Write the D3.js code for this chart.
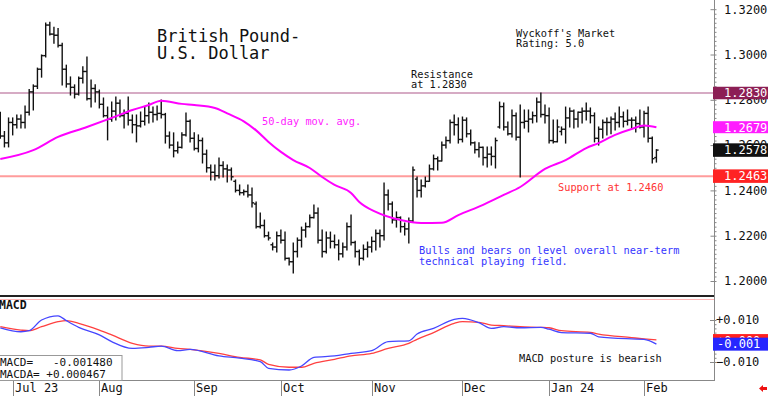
<!DOCTYPE html>
<html>
<head>
<meta charset="utf-8">
<script src="https://cdn.jsdelivr.net/npm/d3@7"></script>
<style>
  body { margin: 0; background: #fff; }
  svg { display: block; }
  text { font-family: 'DejaVu Sans Mono', monospace; white-space: pre; }
</style>
</head>
<body>
<svg id="chart" width="768" height="396"></svg>
<script>
// daily bars, Jun 28 2023 .. Feb 6 2024 (weekdays)
const opens = [
  1.2710, 1.2640, 1.2610,
  1.2700, 1.2690, 1.2715, 1.2700, 1.2745, 1.2835, 1.2860, 1.2935, 1.2995, 1.3130, 1.3090, 1.3085, 1.3040, 1.2935, 1.2870, 1.2855, 1.2825, 1.2895, 1.2925, 1.2805, 1.2850,
  1.2835, 1.2780, 1.2730, 1.2715, 1.2750, 1.2785, 1.2730, 1.2740, 1.2710, 1.2690, 1.2685, 1.2705, 1.2730, 1.2745, 1.2735, 1.2740, 1.2735, 1.2640, 1.2600, 1.2575, 1.2590, 1.2645, 1.2705,
  1.2630, 1.2585, 1.2620, 1.2560, 1.2500, 1.2480, 1.2465, 1.2510, 1.2495, 1.2490, 1.2440, 1.2400, 1.2390, 1.2395, 1.2380, 1.2340, 1.2240, 1.2245, 1.2200, 1.2160, 1.2150,
  1.2200, 1.2180, 1.2100, 1.2085, 1.2130, 1.2180, 1.2225, 1.2240, 1.2280, 1.2300, 1.2180, 1.2130, 1.2190, 1.2175, 1.2160, 1.2120, 1.2150, 1.2240, 1.2170, 1.2130, 1.2100, 1.2140,
  1.2150, 1.2175, 1.2210, 1.2200, 1.2380, 1.2340, 1.2270, 1.2280, 1.2240, 1.2230, 1.2265, 1.2450, 1.2400, 1.2420, 1.2440, 1.2495, 1.2540, 1.2530, 1.2600, 1.2620, 1.2700, 1.2690,
  1.2625, 1.2710, 1.2650, 1.2610, 1.2580, 1.2590, 1.2545, 1.2560, 1.2550, 1.2680, 1.2770, 1.2680, 1.2650, 1.2730, 1.2635, 1.2700, 1.2705, 1.2715, 1.2730, 1.2790, 1.2735,
  1.2730, 1.2620, 1.2615, 1.2660, 1.2670, 1.2720, 1.2750, 1.2715, 1.2745, 1.2750, 1.2750, 1.2730, 1.2630, 1.2670, 1.2700, 1.2700, 1.2715, 1.2700, 1.2725, 1.2705, 1.2710, 1.2710, 1.2695,
  1.2680, 1.2740, 1.2630, 1.2545
]
const highs = [
  1.2745, 1.2660, 1.2720,
  1.2720, 1.2733, 1.2733, 1.2773, 1.2845, 1.2866, 1.2940, 1.2998, 1.3139, 1.3142, 1.3120, 1.3115, 1.3050, 1.2953, 1.2901, 1.2866, 1.2901, 1.2946, 1.2989, 1.2887, 1.2866,
  1.2843, 1.2808, 1.2768, 1.2790, 1.2812, 1.2799, 1.2755, 1.2812, 1.2733, 1.2733, 1.2746, 1.2768, 1.2786, 1.2768, 1.2773, 1.2799, 1.2740, 1.2658, 1.2654, 1.2614, 1.2654, 1.2742, 1.2711,
  1.2654, 1.2645, 1.2631, 1.2578, 1.2512, 1.2512, 1.2543, 1.2526, 1.2512, 1.2499, 1.2446, 1.2424, 1.2402, 1.2424, 1.2411, 1.2349, 1.2300, 1.2269, 1.2216, 1.2168, 1.2216,
  1.2225, 1.2216, 1.2102, 1.2168, 1.2190, 1.2238, 1.2256, 1.2291, 1.2336, 1.2322, 1.2225, 1.2216, 1.2216, 1.2203, 1.2181, 1.2168, 1.2256, 1.2291, 1.2175, 1.2137, 1.2159, 1.2172,
  1.2194, 1.2225, 1.2225, 1.2433, 1.2402, 1.2349, 1.2305, 1.2283, 1.2256, 1.2278, 1.2503, 1.2459, 1.2446, 1.2459, 1.2512, 1.2556, 1.2547, 1.2614, 1.2636, 1.2711, 1.2733, 1.2720,
  1.2724, 1.2720, 1.2667, 1.2614, 1.2610, 1.2592, 1.2592, 1.2592, 1.2631, 1.2790, 1.2786, 1.2702, 1.2755, 1.2742, 1.2777, 1.2755, 1.2755, 1.2746, 1.2808, 1.2830, 1.2777,
  1.2764, 1.2711, 1.2711, 1.2680, 1.2768, 1.2764, 1.2755, 1.2746, 1.2764, 1.2786, 1.2764, 1.2742, 1.2680, 1.2711, 1.2720, 1.2724, 1.2742, 1.2768, 1.2746, 1.2755, 1.2720, 1.2724, 1.2755,
  1.2750, 1.2768, 1.2636, 1.2580
]
const lows = [
  1.2630, 1.2592, 1.2592,
  1.2645, 1.2675, 1.2675, 1.2675, 1.2733, 1.2755, 1.2850, 1.2900, 1.2989, 1.3086, 1.3050, 1.3033, 1.2865, 1.2856, 1.2821, 1.2808, 1.2821, 1.2874, 1.2799, 1.2768, 1.2790,
  1.2764, 1.2724, 1.2623, 1.2705, 1.2711, 1.2724, 1.2675, 1.2689, 1.2654, 1.2614, 1.2680, 1.2689, 1.2698, 1.2702, 1.2711, 1.2720, 1.2609, 1.2587, 1.2548, 1.2565, 1.2587, 1.2640, 1.2614,
  1.2578, 1.2570, 1.2521, 1.2481, 1.2446, 1.2446, 1.2455, 1.2459, 1.2437, 1.2446, 1.2393, 1.2380, 1.2380, 1.2371, 1.2327, 1.2234, 1.2234, 1.2194, 1.2181, 1.2137, 1.2128,
  1.2168, 1.2093, 1.2071, 1.2035, 1.2106, 1.2150, 1.2194, 1.2238, 1.2278, 1.2168, 1.2106, 1.2124, 1.2146, 1.2146, 1.2093, 1.2106, 1.2137, 1.2159, 1.2106, 1.2071, 1.2093, 1.2106,
  1.2128, 1.2137, 1.2150, 1.2181, 1.2313, 1.2256, 1.2238, 1.2216, 1.2203, 1.2168, 1.2260, 1.2371, 1.2371, 1.2415, 1.2440, 1.2490, 1.2490, 1.2530, 1.2587, 1.2609, 1.2645, 1.2609,
  1.2614, 1.2636, 1.2600, 1.2565, 1.2548, 1.2512, 1.2503, 1.2512, 1.2499, 1.2675, 1.2667, 1.2645, 1.2636, 1.2623, 1.2459, 1.2675, 1.2658, 1.2698, 1.2702, 1.2724, 1.2698,
  1.2609, 1.2609, 1.2614, 1.2645, 1.2609, 1.2680, 1.2675, 1.2680, 1.2698, 1.2711, 1.2698, 1.2614, 1.2600, 1.2631, 1.2645, 1.2650, 1.2667, 1.2680, 1.2680, 1.2689, 1.2675, 1.2658, 1.2675,
  1.2636, 1.2614, 1.2521, 1.2525
]
const closes = [
  1.2640, 1.2610, 1.2700,
  1.2690, 1.2715, 1.2700, 1.2745, 1.2835, 1.2860, 1.2935, 1.2995, 1.3130, 1.3090, 1.3085, 1.3040, 1.2935, 1.2870, 1.2855, 1.2825, 1.2895, 1.2925, 1.2805, 1.2850, 1.2835,
  1.2780, 1.2730, 1.2715, 1.2750, 1.2785, 1.2730, 1.2740, 1.2710, 1.2690, 1.2685, 1.2705, 1.2730, 1.2745, 1.2735, 1.2740, 1.2735, 1.2640, 1.2600, 1.2575, 1.2590, 1.2645, 1.2705, 1.2630,
  1.2585, 1.2620, 1.2560, 1.2500, 1.2480, 1.2465, 1.2510, 1.2495, 1.2490, 1.2460, 1.2400, 1.2390, 1.2395, 1.2380, 1.2345, 1.2240, 1.2245, 1.2200, 1.2190, 1.2150, 1.2200,
  1.2180, 1.2100, 1.2085, 1.2130, 1.2180, 1.2225, 1.2240, 1.2280, 1.2300, 1.2180, 1.2130, 1.2190, 1.2175, 1.2160, 1.2120, 1.2150, 1.2240, 1.2170, 1.2130, 1.2100, 1.2140, 1.2150,
  1.2175, 1.2210, 1.2200, 1.2380, 1.2340, 1.2270, 1.2280, 1.2240, 1.2230, 1.2265, 1.2490, 1.2400, 1.2420, 1.2440, 1.2495, 1.2540, 1.2530, 1.2600, 1.2620, 1.2700, 1.2690, 1.2625,
  1.2710, 1.2650, 1.2610, 1.2580, 1.2590, 1.2545, 1.2560, 1.2550, 1.2620, 1.2770, 1.2680, 1.2650, 1.2730, 1.2635, 1.2700, 1.2705, 1.2715, 1.2730, 1.2790, 1.2735, 1.2730,
  1.2620, 1.2615, 1.2680, 1.2670, 1.2720, 1.2750, 1.2715, 1.2745, 1.2750, 1.2750, 1.2730, 1.2630, 1.2670, 1.2700, 1.2700, 1.2715, 1.2700, 1.2725, 1.2705, 1.2710, 1.2710, 1.2695, 1.2680,
  1.2740, 1.2630, 1.2540, 1.2578
]

const maDates = ['2023-06-28', '2023-07-10', '2023-07-18', '2023-07-27', '2023-08-04', '2023-08-11', '2023-08-17', '2023-08-22',
  '2023-08-29', '2023-09-01', '2023-09-08', '2023-09-13', '2023-09-19', '2023-09-22', '2023-09-27', '2023-10-02', '2023-10-05',
  '2023-10-11', '2023-10-16', '2023-10-19', '2023-10-25', '2023-10-27', '2023-11-02', '2023-11-10', '2023-11-17', '2023-11-24',
  '2023-11-30', '2023-12-08', '2023-12-15', '2023-12-21', '2023-12-29', '2024-01-05', '2024-01-12', '2024-01-17', '2024-01-23',
  '2024-01-29', '2024-02-01', '2024-02-06']
const maValues = [1.2539, 1.2578, 1.2636, 1.2680, 1.2720, 1.2755, 1.2777, 1.2796,
  1.2782, 1.2777, 1.2764, 1.2740, 1.2705, 1.2665, 1.2614, 1.2570, 1.2534,
  1.2499, 1.2459, 1.2424, 1.2389, 1.2349, 1.2305, 1.2269, 1.2256, 1.2257,
  1.2291, 1.2336, 1.2380, 1.2415, 1.2495, 1.2534, 1.2587, 1.2609, 1.2645,
  1.2671, 1.2686, 1.2679]

const macdDates = ['2023-06-28', '2023-07-05', '2023-07-07', '2023-07-12', '2023-07-18', '2023-07-20', '2023-07-25', '2023-08-01',
  '2023-08-04', '2023-08-11', '2023-08-17', '2023-08-22', '2023-08-28', '2023-08-31', '2023-09-11', '2023-09-18', '2023-09-25',
  '2023-09-27', '2023-10-04', '2023-10-09', '2023-10-12', '2023-10-19', '2023-10-25', '2023-11-01', '2023-11-07', '2023-11-14',
  '2023-11-16', '2023-11-22', '2023-11-29', '2023-12-01', '2023-12-07', '2023-12-12', '2023-12-15', '2023-12-21', '2023-12-28',
  '2024-01-01', '2024-01-04', '2024-01-15', '2024-01-17', '2024-01-29', '2024-02-01', '2024-02-06']
const macdValues = [0.0063, 0.0044, 0.0049, 0.0100, 0.0120, 0.0097, 0.0065, 0.0029,
  -0.0003, -0.0035, -0.0030, -0.0024, -0.0046, -0.0040, -0.0071, -0.0082, -0.0098,
  -0.0130, -0.0138, -0.0119, -0.0078, -0.0071, -0.0059, -0.0046, -0.0003, 0.0001,
  0.0033, 0.0060, 0.0103, 0.0108, 0.0087, 0.0060, 0.0068, 0.0063, 0.0065,
  0.0056, 0.0040, 0.0037, 0.0020, 0.0010, 0.0008, -0.0015]
const signalValues = [0.0068, 0.0052, 0.0049, 0.0068, 0.0092, 0.0097, 0.0084, 0.0052,
  0.0029, -0.0011, -0.0024, -0.0024, -0.0035, -0.0040, -0.0059, -0.0078, -0.0090,
  -0.0111, -0.0125, -0.0125, -0.0106, -0.0087, -0.0071, -0.0059, -0.0035, -0.0011,
  0.0008, 0.0040, 0.0084, 0.0092, 0.0089, 0.0076, 0.0073, 0.0068, 0.0065,
  0.0063, 0.0049, 0.0041, 0.0033, 0.0016, 0.0010, 0.0005]

const monthTicks = ['2023-07-03', '2023-08-01', '2023-09-01', '2023-10-02', '2023-11-01', '2023-12-01', '2024-01-01', '2024-02-01']
const monthLabels = ['Jul 23', 'Aug', 'Sep', 'Oct', 'Nov', 'Dec', 'Jan 24', 'Feb']
const priceTicks = [1.20, 1.22, 1.24, 1.26, 1.28, 1.30, 1.32]
const macdTicks = [0.01, -0.01]

const resistance = 1.2830
const support = 1.2463

const svg = d3.select('#chart')
const axisX = 714

const fmtDay = d3.timeFormat('%Y-%m-%d')
const days = d3.timeDay.range(new Date(2023, 5, 28), new Date(2024, 1, 7))
  .filter(d => d.getDay() !== 0 && d.getDay() !== 6)
  .map(fmtDay)

const x = d3.scalePoint().domain(days).range([0.3, 656.4])
const y = d3.scaleLinear().domain([1.20, 1.32]).range([281, 9.2])
const ym = d3.scaleLinear().domain([-0.01, 0.01]).range([362, 320])

const bars = days.map((d, i) => ({ day: d, o: opens[i], h: highs[i], l: lows[i], c: closes[i] }))

// level lines
svg.append('line')
  .attr('x1', 0).attr('x2', axisX)
  .attr('y1', y(resistance)).attr('y2', y(resistance))
  .attr('stroke', '#c98fb0').attr('stroke-width', 1.5)
svg.append('line')
  .attr('x1', 0).attr('x2', axisX)
  .attr('y1', y(support)).attr('y2', y(support))
  .attr('stroke', '#ff9c9c').attr('stroke-width', 2)

// OHLC bars
const barG = svg.append('g').attr('stroke', '#111').attr('stroke-width', 1.4)
const barSel = barG.selectAll('g').data(bars).enter().append('g')
  .attr('transform', d => `translate(${x(d.day)},0)`)
barSel.append('line').attr('y1', d => y(d.h) - 0.5).attr('y2', d => y(d.l) + 0.5)
barSel.append('line').attr('x1', -2.2).attr('x2', 0).attr('y1', d => y(d.o)).attr('y2', d => y(d.o))
barSel.append('line').attr('x1', 0).attr('x2', 2.2).attr('y1', d => y(d.c)).attr('y2', d => y(d.c))

// 50 day moving average
const maLine = d3.line()
  .x((d, i) => x(maDates[i]))
  .y(d => y(d))
  .curve(d3.curveMonotoneX)
svg.append('path')
  .datum(maValues)
  .attr('d', maLine)
  .attr('fill', 'none')
  .attr('stroke', '#ff00ff')
  .attr('stroke-width', 2)

// panel separators
svg.append('line').attr('x1', 0).attr('x2', axisX).attr('y1', 296).attr('y2', 296)
  .attr('stroke', '#222').attr('stroke-width', 1.8)
svg.append('line').attr('x1', 0).attr('x2', axisX).attr('y1', 299.5).attr('y2', 299.5)
  .attr('stroke', '#ffb4b4').attr('stroke-width', 1)
svg.append('line').attr('x1', 0).attr('x2', axisX).attr('y1', 380.5).attr('y2', 380.5)
  .attr('stroke', '#888').attr('stroke-width', 1)

// MACD lines
const macdLine = d3.line().x((d, i) => x(macdDates[i])).y(d => ym(d)).curve(d3.curveMonotoneX)
svg.append('path').datum(signalValues).attr('d', macdLine)
  .attr('fill', 'none').attr('stroke', '#ff4040').attr('stroke-width', 1.3)
svg.append('path').datum(macdValues).attr('d', macdLine)
  .attr('fill', 'none').attr('stroke', '#4646ff').attr('stroke-width', 1.3)

// right axis line + ticks
svg.append('line').attr('x1', axisX + 0.5).attr('x2', axisX + 0.5).attr('y1', 0).attr('y2', 381)
  .attr('stroke', '#888').attr('stroke-width', 1)

const minor = svg.append('g').attr('transform', `translate(${axisX + 0.5},0)`)
  .call(d3.axisRight(y).ticks(48).tickSize(2).tickFormat(''))
minor.select('.domain').remove()
minor.selectAll('line').attr('stroke', '#888')

const major = svg.append('g').attr('transform', `translate(${axisX + 0.5},0)`)
  .call(d3.axisLeft(y).tickValues(priceTicks).tickSize(4).tickFormat(''))
major.select('.domain').remove()
major.selectAll('line').attr('stroke', '#888')

const priceAxis = svg.append('g').attr('transform', `translate(${axisX},0)`)
  .call(d3.axisRight(y).tickValues(priceTicks).tickSize(0).tickPadding(10).tickFormat(d3.format('.4f')))
priceAxis.select('.domain').remove()
priceAxis.selectAll('text')
  .attr('font-family', 'DejaVu Sans Mono').attr('font-size', 12).attr('fill', '#111')

const macdMinor = svg.append('g').attr('transform', `translate(${axisX + 0.5},0)`)
  .call(d3.axisRight(ym).ticks(8).tickSize(2).tickFormat(''))
macdMinor.select('.domain').remove()
macdMinor.selectAll('line').attr('stroke', '#888')

const macdAxis = svg.append('g').attr('transform', `translate(${axisX},0)`)
  .call(d3.axisRight(ym).tickValues(macdTicks).tickSize(-4).tickPadding(2).tickFormat(d3.format('+.3f')))
macdAxis.select('.domain').remove()
macdAxis.selectAll('line').attr('stroke', '#888')
macdAxis.selectAll('text')
  .attr('font-family', 'DejaVu Sans Mono').attr('font-size', 12).attr('fill', '#111')

// value tags on the right
function tag (yc, h, label, fill, dx) {
  svg.append('rect')
    .attr('x', axisX - 1).attr('y', yc - h / 2).attr('width', 768 - axisX + 1).attr('height', h)
    .attr('fill', fill)
  svg.append('text')
    .attr('x', axisX + dx).attr('y', yc).attr('dy', '0.36em')
    .attr('font-size', 12).attr('fill', '#fff')
    .text(label)
}
tag(y(resistance), 12.5, '1.2830', '#8c1f55', 10)
tag(y(maValues[maValues.length - 1]), 12, '1.2679', '#ff1dff', 10)
tag(y(closes[closes.length - 1]), 13.5, '1.2578', '#111', 10)
tag(y(support), 13.5, '1.2463', '#ff2323', 10)
tag(ym(0.0002), 13, '+0.000', '#ff2020', 3)
tag(ym(-0.0015), 13, '-0.001', '#2626ff', 3)

// month axis
const monthG = svg.append('g')
monthTicks.forEach((m, i) => {
  const mx = Math.round(x(m)) + 0.5
  monthG.append('line').attr('x1', mx).attr('x2', mx).attr('y1', 381).attr('y2', 396)
    .attr('stroke', '#888')
  monthG.append('text').attr('x', mx + 1.5).attr('y', 392)
    .attr('font-size', 12).attr('fill', '#111')
    .text(monthLabels[i])
})

// little red arrow bottom right
svg.append('path')
  .attr('d', 'M759,388.5 L763,385 L763,387 L767,387 L767,390 L763,390 L763,392 Z')
  .attr('fill', '#ee1111')

// annotations
const note = (tx, ty, str, size, fill) => svg.append('text')
  .attr('x', tx).attr('y', ty).attr('font-size', size).attr('fill', fill).text(str)

note(157, 42, 'British Pound-', 17, '#111')
note(157, 59, 'U.S. Dollar', 17, '#111')
note(516, 37, "Wyckoff's Market", 10.3, '#111')
note(516, 47, 'Rating: 5.0', 10.3, '#111')
note(411, 77.5, 'Resistance', 10.3, '#111')
note(411, 87.5, 'at 1.2830', 10.3, '#111')
note(262, 124.5, '50-day mov. avg.', 10.3, '#ff1dff')
note(558, 191, 'Support at 1.2460', 10.3, '#ff3333')
note(419, 254, 'Bulls and bears on level overall near-term', 10.3, '#3535ff')
note(419, 265, 'technical playing field.', 10.3, '#3535ff')
note(519, 361.5, 'MACD posture is bearish', 10.3, '#111')

svg.append('text').attr('x', -1).attr('y', 308.5)
  .attr('font-family', 'Liberation Sans, Arial, sans-serif')
  .attr('font-weight', 'bold').attr('font-size', 11.5).attr('fill', '#111')
  .text('MACD')

// MACD readout box
svg.append('rect').attr('x', -1).attr('y', 355.5).attr('width', 123).attr('height', 25)
  .attr('fill', '#fff').attr('stroke', '#999')
note(0, 366, 'MACD=   -0.001480', 11, '#111')
note(0, 378, 'MACDA= +0.000467', 11, '#111')
</script>
</body>
</html>
